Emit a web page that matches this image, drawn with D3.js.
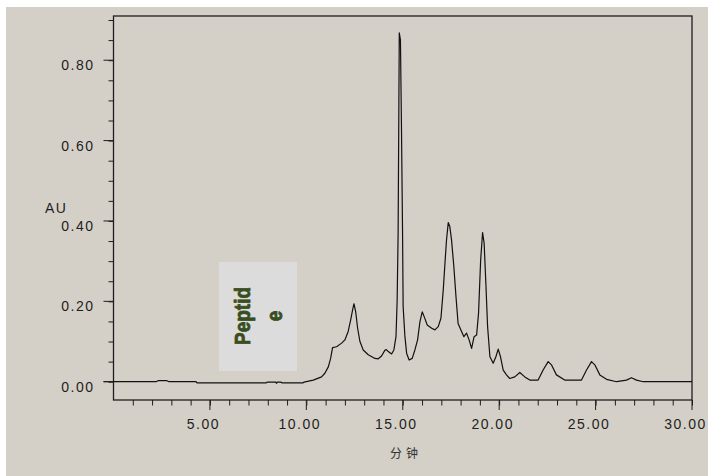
<!DOCTYPE html>
<html>
<head>
<meta charset="utf-8">
<script src="https://cdn.jsdelivr.net/npm/d3@7"></script>
<style>
  body { margin: 0; background: #fff; }
  text { font-family: "Liberation Sans", Arial, sans-serif; fill: #1e1e1e; }
</style>
</head>
<body>
<div id="content"></div>
<script>
// chromatogram: time in minutes, absorbance in AU
var timeMin = [0, 2.20, 2.31, 2.77, 2.88, 4.28, 4.33, 7.91, 7.96, 8.42, 8.45, 8.50, 8.68, 8.74, 9.82, 9.88,
  10.36, 10.79, 10.96, 11.14, 11.26, 11.36, 11.57, 11.83, 12.00, 12.17, 12.30, 12.40, 12.47, 12.56, 12.66,
  12.78, 12.95, 13.21, 13.56, 13.73, 13.90, 14.07, 14.15, 14.25, 14.42, 14.54, 14.65, 14.71, 14.76, 14.80,
  14.82, 14.88, 14.93, 14.99, 15.02, 15.11, 15.20, 15.33, 15.49, 15.63, 15.77, 15.89, 16.01, 16.11, 16.27,
  16.50, 16.67, 16.84, 16.98, 17.10, 17.20, 17.27, 17.36, 17.44, 17.53, 17.65, 17.76, 17.87, 18.05, 18.17,
  18.31, 18.44, 18.57, 18.70, 18.83, 18.93, 19.04, 19.14, 19.22, 19.31, 19.40, 19.52, 19.69, 19.83, 19.95,
  20.07, 20.21, 20.38, 20.55, 20.81, 21.07, 21.33, 21.59, 22.02, 22.28, 22.54, 22.71, 22.97, 23.40, 24.27,
  24.53, 24.79, 24.96, 25.22, 25.57, 26.09, 26.60, 26.86, 27.12, 27.47, 30];
var absorbance = [0, 0, 0.0025, 0.0025, 0, 0, -0.003, -0.003, -0.001, -0.001, -0.004, -0.001, -0.001, -0.003, -0.003, -0.001,
  0.004, 0.012, 0.021, 0.037, 0.058, 0.085, 0.087, 0.096, 0.104, 0.125, 0.154, 0.179, 0.194, 0.174, 0.133,
  0.100, 0.079, 0.067, 0.058, 0.057, 0.064, 0.078, 0.080, 0.075, 0.069, 0.079, 0.112, 0.203, 0.370, 0.700,
  0.868, 0.850, 0.650, 0.370, 0.187, 0.114, 0.071, 0.054, 0.058, 0.079, 0.104, 0.149, 0.174, 0.162, 0.141,
  0.133, 0.129, 0.137, 0.158, 0.228, 0.303, 0.353, 0.396, 0.386, 0.353, 0.286, 0.212, 0.145, 0.125, 0.112,
  0.121, 0.104, 0.083, 0.112, 0.116, 0.170, 0.303, 0.371, 0.345, 0.245, 0.137, 0.062, 0.046, 0.062, 0.081,
  0.062, 0.029, 0.017, 0.008, 0.012, 0.023, 0.012, 0.004, 0.004, 0.029, 0.050, 0.042, 0.017, 0.004, 0.004,
  0.029, 0.050, 0.042, 0.017, 0.006, 0, 0.004, 0.010, 0.004, 0, 0];

var xMajor = [5, 10, 15, 20, 25, 30];
var xTickLabels = ['5.00', '10.00', '15.00', '20.00', '25.00', '30.00'];
var yMajor = [0, 0.2, 0.4, 0.6, 0.8];
var yTickLabels = ['0.00', '0.20', '0.40', '0.60', '0.80'];
var xUnit = '分钟';
var yUnit = 'AU';
var noteLines = ['Peptid', 'e'];

var width = 708, height = 476;
// plot frame edges (don't call these top/left, window.top is taken)
var plotL = 113.5, plotR = 692, plotT = 16, plotB = 400;

var svg = d3.select('#content').append('svg')
  .attr('width', width)
  .attr('height', height);

svg.append('rect')
  .attr('x', 6).attr('y', 7)
  .attr('width', width - 6).attr('height', height - 7)
  .attr('fill', '#d4d0c8');

var x = d3.scaleLinear().domain([0, 30]).range([plotL, plotR]);
var y = d3.scaleLinear().domain([-0.0455, 0.91]).range([plotB, plotT]);

// note box
svg.append('rect')
  .attr('x', 219).attr('y', 262)
  .attr('width', 78).attr('height', 109)
  .attr('fill', '#dcdcdc');

var note = svg.append('g').attr('transform', 'translate(250,316) rotate(-90)');
note.selectAll('text')
  .data(noteLines)
  .enter().append('text')
  .attr('x', 0)
  .attr('y', function(d, i) { return i * 28.5; })
  .attr('text-anchor', 'middle')
  .attr('transform', 'scale(1,1.12)')
  .style('font-size', '19px')
  .style('font-weight', 'bold')
  .style('fill', '#384d20')
  .style('stroke', '#384d20')
  .style('stroke-width', 0.7)
  .text(function(d) { return d; });

// y axis ticks
var yAxis = d3.axisLeft(y)
  .tickValues(d3.range(0, 0.901, 0.05))
  .tickSize(5)
  .tickFormat('');
svg.append('g').attr('transform', 'translate(' + plotL + ',0)').call(yAxis)
  .call(function(g) { g.select('.domain').remove(); });

svg.append('g').selectAll('line')
  .data(yMajor)
  .enter().append('line')
  .attr('x1', plotL - 10).attr('x2', plotL)
  .attr('y1', function(d) { return y(d); })
  .attr('y2', function(d) { return y(d); })
  .attr('stroke', '#1e1e1e');

svg.append('g').selectAll('text')
  .data(yMajor)
  .enter().append('text')
  .attr('x', 94.5)
  .attr('y', function(d) { return y(d) + 10; })
  .attr('text-anchor', 'end')
  .style('font-size', '14px')
  .style('letter-spacing', '1.5px')
  .text(function(d, i) { return yTickLabels[i]; });

// x axis ticks
var xAxis = d3.axisBottom(x)
  .tickValues(d3.range(1, 30.5, 1))
  .tickSize(5.5)
  .tickFormat('');
svg.append('g').attr('transform', 'translate(0,' + plotB + ')').call(xAxis)
  .call(function(g) { g.select('.domain').remove(); });

svg.append('g').selectAll('line')
  .data(xMajor)
  .enter().append('line')
  .attr('x1', function(d) { return x(d); })
  .attr('x2', function(d) { return x(d); })
  .attr('y1', plotB).attr('y2', plotB + 10)
  .attr('stroke', '#1e1e1e');

svg.append('g').selectAll('text')
  .data(xMajor)
  .enter().append('text')
  .attr('x', function(d) { return x(d) - 6.5; })
  .attr('y', 429)
  .attr('text-anchor', 'middle')
  .style('font-size', '14px')
  .style('letter-spacing', '1.5px')
  .text(function(d, i) { return xTickLabels[i]; });

svg.selectAll('.tick line').attr('stroke', '#1e1e1e');

// frame
svg.append('rect')
  .attr('x', plotL).attr('y', plotT)
  .attr('width', plotR - plotL).attr('height', plotB - plotT)
  .attr('fill', 'none')
  .attr('stroke', '#1e1e1e')
  .attr('stroke-width', 1.3);

// units
svg.append('text')
  .attr('x', 45).attr('y', 213)
  .style('font-size', '14px')
  .style('letter-spacing', '1.5px')
  .text(yUnit);

svg.append('text')
  .attr('x', 406).attr('y', 458)
  .attr('text-anchor', 'middle')
  .style('font-family', '"Noto Sans CJK SC", sans-serif')
  .style('font-size', '12px')
  .style('letter-spacing', '4px')
  .style('fill', '#333')
  .text(xUnit);

// trace
var line = d3.line()
  .x(function(d) { return x(d[0]); })
  .y(function(d) { return y(d[1]); });

svg.append('path')
  .datum(d3.zip(timeMin, absorbance))
  .attr('d', line)
  .attr('fill', 'none')
  .attr('stroke', '#111')
  .attr('stroke-width', 1.2)
  .attr('stroke-linejoin', 'round');

// baseline stub through the 0.00 tick
svg.append('line')
  .attr('x1', plotL - 10).attr('x2', plotL)
  .attr('y1', y(0)).attr('y2', y(0))
  .attr('stroke', '#1e1e1e');
</script>
</body>
</html>
